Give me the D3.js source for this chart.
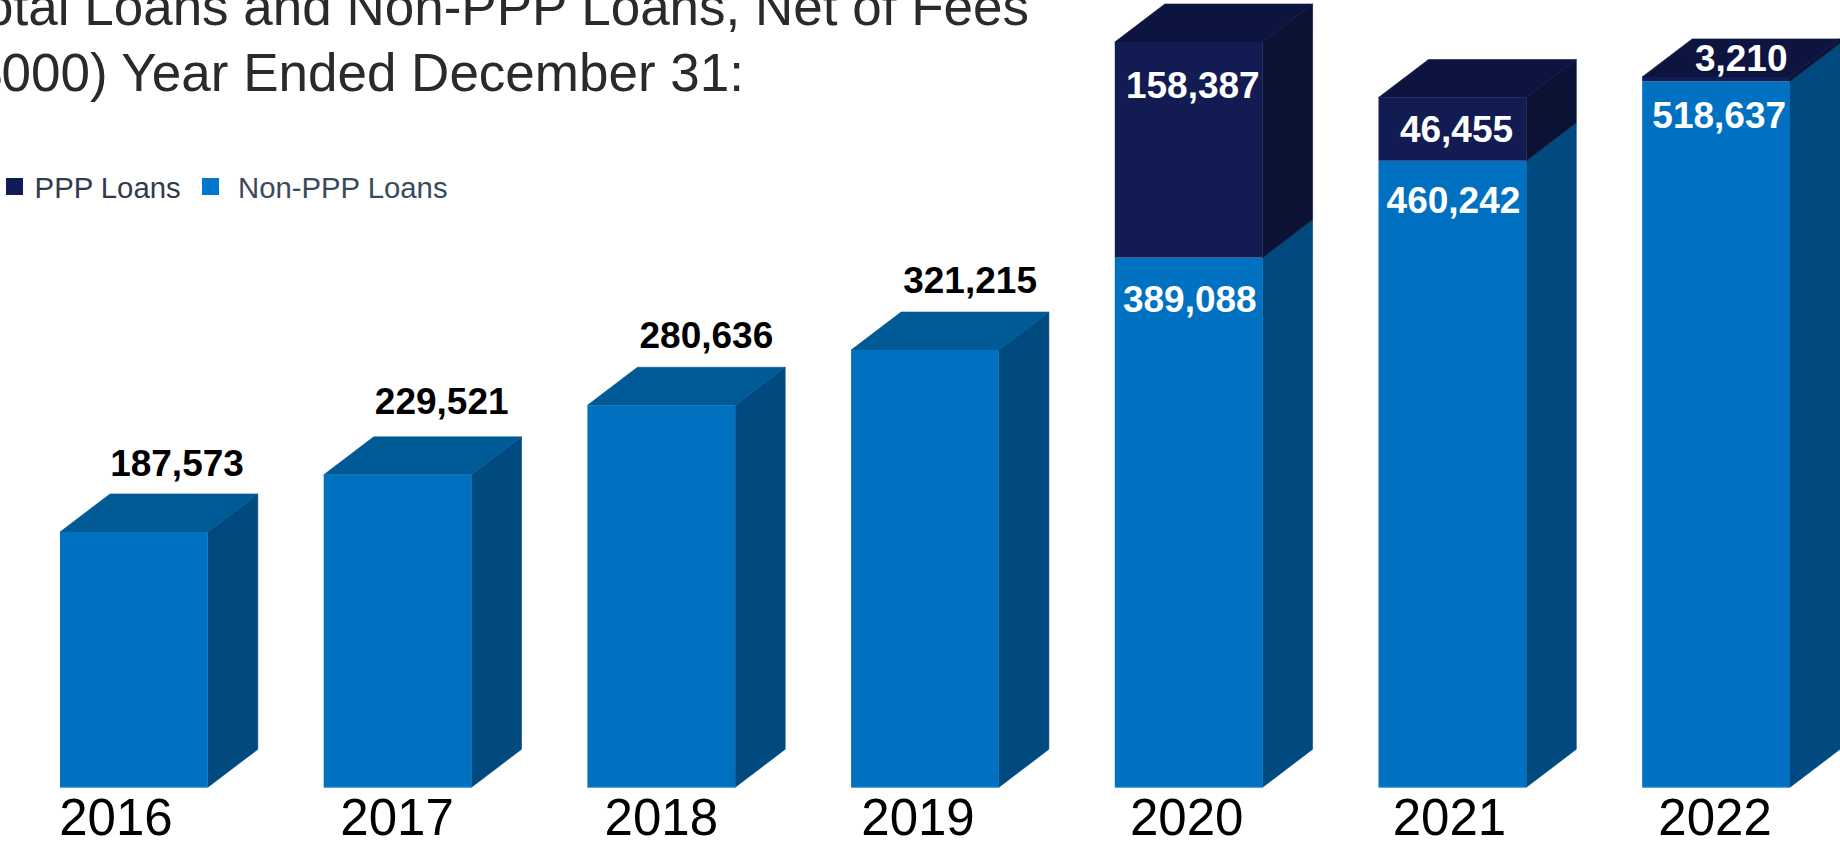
<!DOCTYPE html>
<html>
<head>
<meta charset="utf-8">
<script src="https://cdn.jsdelivr.net/npm/d3@7"></script>
<style>
  html, body { margin: 0; padding: 0; background: #fff; overflow: hidden; }
  svg { display: block; }
  text { font-family: "Liberation Sans", Arial, sans-serif; }
  .domain, .tick line { display: none; }
</style>
</head>
<body>
<svg width="1840" height="841"></svg>
<script>
// values ($000)
var years = ["2016", "2017", "2018", "2019", "2020", "2021", "2022"];
var nonPppLoans = [187573, 229521, 280636, 321215, 389088, 460242, 518637];
var pppLoans = [0, 0, 0, 0, 158387, 46455, 3210];
var seriesNames = ["Non-PPP Loans", "PPP Loans"];
var titleLines = ["Total Loans and Non-PPP Loans, Net of Fees", "($000) Year Ended December 31:"];

var svg = d3.select("svg");
var fmt = d3.format(",");

// fake 3d depth of the boxes
var depthX = 50, depthY = 38;

var x = d3.scaleBand().domain(years).range([60, 1790]).paddingInner(0.4395).paddingOuter(0);
var y = d3.scaleLinear().domain([0, 547475]).range([787.3, 42]);

var rows = years.map(function(yr, i) {
  return { year: yr, "Non-PPP Loans": nonPppLoans[i], "PPP Loans": pppLoans[i] };
});
var stacked = d3.stack().keys(seriesNames)(rows);

var colors = {
  "Non-PPP Loans": { front: "#0071c1", side: "#004a80", top: "#005a96" },
  "PPP Loans": { front: "#121c52", side: "#0b1233", top: "#0e1440" }
};

// the boxes
stacked.forEach(function(layer) {
  var c = colors[layer.key];
  var g = svg.append("g").attr("class", "layer");
  layer.forEach(function(d) {
    if (d[1] - d[0] <= 0) return;
    var yr = d.data.year;
    var i = years.indexOf(yr);
    var x0 = x(yr), x1 = x0 + x.bandwidth();
    var yTop = y(d[1]), yBot = y(d[0]);

    g.append("path")
      .attr("fill", c.side).attr("stroke", c.side).attr("stroke-width", 0.6)
      .attr("d", d3.line()([[x1, yTop], [x1 + depthX, yTop - depthY], [x1 + depthX, yBot - depthY], [x1, yBot]]) + "Z");

    // only the highest segment of a column shows its lid
    var isTop = layer.key === "PPP Loans" ? true : pppLoans[i] === 0;
    if (isTop) {
      g.append("path")
        .attr("fill", c.top).attr("stroke", c.top).attr("stroke-width", 0.6)
        .attr("d", d3.line()([[x0, yTop], [x0 + depthX, yTop - depthY], [x1 + depthX, yTop - depthY], [x1, yTop]]) + "Z");
    }

    g.append("rect")
      .attr("x", x0).attr("y", yTop)
      .attr("width", x.bandwidth()).attr("height", yBot - yTop)
      .attr("fill", c.front);
  });
});

// thin lighter edge along the foot of each box
svg.append("g").selectAll("line").data(years).join("line")
  .attr("x1", function(d) { return x(d); })
  .attr("x2", function(d) { return x(d) + x.bandwidth(); })
  .attr("y1", y(0)).attr("y2", y(0))
  .attr("stroke", "#3c97dc").attr("stroke-width", 1);

// year axis
var axis = svg.append("g")
  .attr("transform", "translate(0," + y(0) + ")")
  .call(d3.axisBottom(x).tickSize(0).tickPadding(0));
var yearNudge = { "2016": -18, "2017": -0.5, "2018": 0, "2019": -7, "2020": -2, "2021": -3, "2022": -1 };
axis.selectAll("text")
  .attr("font-size", 51)
  .attr("fill", "#000")
  .attr("y", 47.5)
  .attr("dy", 0)
  .attr("dx", function(d) { return yearNudge[d]; });

// totals above the plain columns, white values inside the stacked ones
var aboveNudge = { "2016": [117, -18], "2017": [118, -23], "2018": [119, -19], "2019": [119, -19] };
var labelG = svg.append("g")
  .attr("font-size", 37)
  .attr("font-weight", "bold")
  .attr("text-anchor", "middle");

years.forEach(function(yr, i) {
  if (!aboveNudge[yr]) return;
  labelG.append("text")
    .attr("x", x(yr) + aboveNudge[yr][0])
    .attr("y", y(nonPppLoans[i]) - depthY + aboveNudge[yr][1])
    .attr("fill", "#000")
    .text(fmt(nonPppLoans[i]));
});

var insideNudge = {
  "Non-PPP Loans": { "2020": [75, 54], "2021": [75, 52], "2022": [77, 47] },
  "PPP Loans": { "2020": [78, 56], "2021": [78, 44], "2022": [99, -6] }
};
stacked.forEach(function(layer) {
  layer.forEach(function(d) {
    var yr = d.data.year;
    var n = insideNudge[layer.key][yr];
    if (!n) return;
    labelG.append("text")
      .attr("x", x(yr) + n[0])
      .attr("y", y(d[1]) + n[1])
      .attr("fill", "#fff")
      .text(fmt(d[1] - d[0]));
  });
});

// title, cut off by the page edge as in the source
svg.append("text").attr("x", 1029).attr("y", 25)
  .attr("text-anchor", "end").attr("font-size", 53).attr("fill", "#2b2a29")
  .text(titleLines[0]);
svg.append("text").attr("x", 744).attr("y", 91)
  .attr("text-anchor", "end").attr("font-size", 53).attr("fill", "#2b2a29")
  .text(titleLines[1]);

// legend
var legend = [
  { name: "PPP Loans", box: "#111b57", ink: "#2f3b4c", bx: 6, tx: 34.6 },
  { name: "Non-PPP Loans", box: "#0077cc", ink: "#3a4a5c", bx: 202, tx: 238 }
];
legend.forEach(function(l) {
  svg.append("rect").attr("x", l.bx).attr("y", 178).attr("width", 17).attr("height", 17).attr("fill", l.box);
  svg.append("text").attr("x", l.tx).attr("y", 198)
    .attr("font-size", 29.3).attr("fill", l.ink).text(l.name);
});
</script>
</body>
</html>
